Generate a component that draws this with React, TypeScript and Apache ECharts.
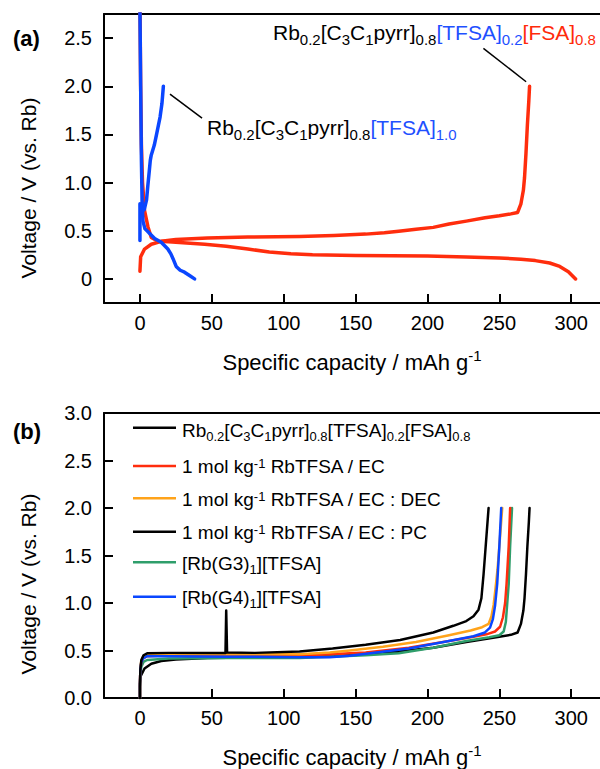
import React, { useEffect, useRef } from 'react';
import * as echarts from 'echarts';

const FONT = '"Liberation Sans", Arial, Helvetica, sans-serif';

// ---------- Panel (a) data: [capacity mAh/g, voltage V] ----------
const ilDischargeA: [number, number][] = [
  [0, 2.9], [0.5, 2.0], [1.0, 1.4], [1.8, 1.0], [3.2, 0.71], [5.6, 0.54], [7.9, 0.43],
  [12.5, 0.39], [20, 0.385], [30, 0.375], [45, 0.36], [60, 0.34], [75, 0.31], [90, 0.28],
  [105, 0.262], [120, 0.25], [150, 0.243], [200, 0.237], [227, 0.228], [250, 0.218],
  [265, 0.205], [275, 0.19], [285, 0.165], [292, 0.13], [298, 0.075], [303, 0.0],
];
const ilChargeA: [number, number][] = [
  [0, 0.08], [0.5, 0.23], [3.2, 0.31], [7.9, 0.36], [14.8, 0.39], [25, 0.41], [47, 0.425],
  [75, 0.435], [111, 0.44], [135, 0.45], [157, 0.465], [170, 0.48], [180, 0.495], [192, 0.515],
  [204, 0.535], [215, 0.57], [227, 0.6], [240, 0.635], [250, 0.655], [258, 0.675], [262.7, 0.69],
  [265, 0.78], [266.7, 0.92], [267.5, 1.05], [268.5, 1.3], [269.5, 1.6], [270.5, 1.85], [271, 2.0],
];
const tfsaDischargeA: [number, number][] = [
  [0, 2.8], [0.5, 2.0], [1.0, 1.25], [1.5, 0.8], [2.1, 0.6], [3.5, 0.52], [5.6, 0.49],
  [10.2, 0.42], [14.8, 0.38], [19.4, 0.31], [21.5, 0.26], [23, 0.21], [25.2, 0.13],
  [28, 0.09], [31, 0.07], [35, 0.03], [38, 0.0],
];
const tfsaChargeA: [number, number][] = [
  [0, 0.4], [0, 0.78], [1.5, 0.7], [3, 0.72], [4.6, 0.82], [5.5, 0.97], [6.5, 1.12],
  [7.2, 1.23], [7.8, 1.28], [10, 1.39], [11.7, 1.51], [14, 1.68], [15.3, 1.82], [16.3, 2.0],
];

// ---------- Panel (b) data ----------
const ilChargeB: [number, number][] = [
  [0, 0.0], [0, 0.12], [0.5, 0.23], [3.2, 0.31], [7.9, 0.36], [14.8, 0.39], [25, 0.405], [47, 0.42],
  [75, 0.425], [111, 0.43], [135, 0.44], [157, 0.46], [180, 0.49], [204, 0.53], [227, 0.59],
  [250, 0.645], [258, 0.665], [262.7, 0.69], [265, 0.78], [266.7, 0.92], [267.5, 1.05],
  [268.5, 1.3], [269.5, 1.6], [270.5, 1.85], [271, 2.0],
];
const ecB: [number, number][] = [
  [0, 0.0], [0, 0.15], [0.3, 0.3], [1, 0.38], [2.5, 0.42], [5, 0.44], [20, 0.45], [60, 0.45],
  [111, 0.45], [132, 0.46], [157, 0.48], [187, 0.53], [215, 0.6], [232, 0.645], [241, 0.67],
  [247, 0.7], [250.5, 0.75], [252.5, 0.85], [254, 1.0], [255, 1.2], [256.5, 1.6], [257.5, 2.0],
];
const ecDecB: [number, number][] = [
  [0, 0.0], [0, 0.15], [0.3, 0.3], [1, 0.4], [2.5, 0.44], [5, 0.46], [20, 0.465], [60, 0.46],
  [111, 0.46], [132, 0.48], [146, 0.5], [169, 0.54], [192, 0.59], [215, 0.66], [230, 0.71],
  [238, 0.745], [242.5, 0.78], [244.5, 0.86], [246, 0.98], [247.3, 1.15], [248.7, 1.35],
  [250, 1.6], [252, 2.0],
];
const ecPcB: [number, number][] = [
  [0, 0.0], [0, 0.15], [0.3, 0.3], [1, 0.4], [2.5, 0.45], [5, 0.47], [20, 0.475], [59.5, 0.475],
  [60, 0.92], [60.6, 0.48], [80, 0.475], [111, 0.49], [134, 0.52], [157, 0.56], [181, 0.61],
  [204, 0.69], [218, 0.76], [227, 0.81], [232, 0.86], [235.5, 0.93], [237.5, 1.05],
  [239, 1.3], [240.5, 1.6], [242.5, 2.0],
];
const g3B: [number, number][] = [
  [0, 0.0], [0, 0.12], [0.3, 0.25], [1, 0.33], [2.5, 0.38], [5, 0.4], [20, 0.415], [60, 0.42],
  [111, 0.42], [157, 0.45], [180, 0.47], [204, 0.53], [227, 0.6], [243, 0.64], [250, 0.66],
  [253, 0.7], [254.5, 0.8], [255.5, 1.0], [256.5, 1.2], [257.5, 1.6], [258.8, 2.0],
];
const g4B: [number, number][] = [
  [0, 0.0], [0, 0.15], [0.3, 0.3], [1, 0.38], [2.5, 0.42], [5, 0.44], [20, 0.44], [60, 0.435],
  [111, 0.43], [132, 0.43], [146, 0.445], [187, 0.52], [215, 0.6], [232, 0.65], [240, 0.69],
  [243.5, 0.74], [245.5, 0.83], [247, 0.97], [248.5, 1.2], [250, 1.6], [251.3, 2.0],
];

// ---------- ticks ----------
const xTicks = [0, 50, 100, 150, 200, 250, 300];
const yTicksA = [0, 0.5, 1.0, 1.5, 2.0, 2.5];
const yTicksB = [0, 0.5, 1.0, 1.5, 2.0, 2.5, 3.0];

// ---------- labels ----------
const annotationIL = '{k|Rb}{ks|0.2}{k|[C}{ks|3}{k|C}{ks|1}{k|pyrr]}{ks|0.8}{b|[TFSA]}{bs|0.2}{r|[FSA]}{rs|0.8}';
const annotationTFSA = '{k|Rb}{ks|0.2}{k|[C}{ks|3}{k|C}{ks|1}{k|pyrr]}{ks|0.8}{b|[TFSA]}{bs|1.0}';
const annotationLinesA: [number, number][][] = [
  [[238.9, 2.394], [268.6, 2.047]],
  [[20.9, 1.918], [43.2, 1.67]],
];
const legendLabels = [
  '{n|Rb}{s|0.2}{n|[C}{s|3}{n|C}{s|1}{n|pyrr]}{s|0.8}{n|[TFSA]}{s|0.2}{n|[FSA]}{s|0.8}',
  '{n|1 mol kg}{p|-1}{n| }{n|RbTFSA / EC}',
  '{n|1 mol kg}{p|-1}{n| }{n|RbTFSA / EC : DEC}',
  '{n|1 mol kg}{p|-1}{n| }{n|RbTFSA / EC : PC}',
  '{n|[Rb(G3)}{s|1}{n|][TFSA]}',
  '{n|[Rb(G4)}{s|1}{n|][TFSA]}',
];
const legendColors = ['#000000', '#ff2d0d', '#ffa31a', '#000000', '#2f9e6b', '#0a46ff'];
const legendLineY = [427.7, 466, 498.3, 531.7, 562.3, 596.7];

const RED = '#ff2d0d';
const BLUE = '#0a46ff';
const TXT_BLUE = '#1f50ff';
const TXT_RED = '#ff2a0a';

export default function App() {
  const ref = useRef<HTMLDivElement>(null);

  useEffect(() => {
    if (!ref.current) return;
    const chart = echarts.init(ref.current, undefined, { renderer: 'svg' });

    const tok = (size: number, fill: string, pad = 0, color = false) => {
      const s: any = { fontSize: size, fontFamily: FONT, height: size, verticalAlign: 'top', padding: [pad, 0, 0, 0] };
      if (color) s.color = fill; else s.fill = fill;
      return s;
    };

    const xAxisBase = (gridIndex: number, withName: boolean) => ({
      type: 'value',
      gridIndex,
      min: -25,
      max: 320,
      axisLine: { show: true, onZero: false, lineStyle: { color: '#000', width: 2 } },
      axisTick: { show: true, inside: true, length: 9, customValues: xTicks, lineStyle: { color: '#000', width: 2 } },
      axisLabel: { show: true, customValues: xTicks, fontSize: 20, fontFamily: FONT, color: '#000', margin: 10 },
      splitLine: { show: false },
      name: withName ? '{n|Specific capacity / mAh g}{p|-1}' : '',
      nameLocation: 'middle',
      nameGap: 45,
      nameTextStyle: {
        rich: {
          n: tok(22, '#000', 3, true),
          p: tok(15, '#000', 0, true),
        },
      },
    });
    const topBorder = (gridIndex: number) => ({
      type: 'value',
      gridIndex,
      position: 'top',
      min: -25,
      max: 320,
      axisLine: { show: true, onZero: false, lineStyle: { color: '#000', width: 2 } },
      axisTick: { show: false },
      axisLabel: { show: false },
      splitLine: { show: false },
    });
    const yAxisBase = (gridIndex: number, min: number, max: number, ticks: number[], zeroPlain: boolean) => ({
      type: 'value',
      gridIndex,
      min,
      max,
      axisLine: { show: true, onZero: false, lineStyle: { color: '#000', width: 2 } },
      axisTick: { show: true, inside: true, length: 9, customValues: ticks, lineStyle: { color: '#000', width: 2 } },
      axisLabel: {
        show: true,
        customValues: ticks,
        fontSize: 20,
        fontFamily: FONT,
        color: '#000',
        margin: 12,
        formatter: (v: number) => (zeroPlain && v === 0 ? '0' : v.toFixed(1)),
      },
      splitLine: { show: false },
    });

    const lineSeries = (data: [number, number][], color: string, xi: number, yi: number, width: number, extra: any = {}) => ({
      type: 'line',
      data,
      xAxisIndex: xi,
      yAxisIndex: yi,
      showSymbol: false,
      symbol: 'none',
      clip: true,
      lineStyle: { color, width, cap: 'round', join: 'round' },
      ...extra,
    });

    const leader = (pts: [number, number][]) => ({
      silent: true,
      symbol: ['none', 'none'],
      label: { show: false },
      lineStyle: { color: '#000', width: 1.5, type: 'solid' },
      data: [[{ coord: pts[0] }, { coord: pts[1] }]],
    });

    const graphics: any[] = [
      { type: 'text', x: 13, y: 38, style: { text: '(a)', fontSize: 22, fontWeight: 'bold', fontFamily: FONT, fill: '#000', verticalAlign: 'middle' } },
      { type: 'text', x: 13, y: 431, style: { text: '(b)', fontSize: 22, fontWeight: 'bold', fontFamily: FONT, fill: '#000', verticalAlign: 'middle' } },
      { type: 'text', x: 28, y: 188, rotation: Math.PI / 2, style: { text: 'Voltage / V (vs. Rb)', fontSize: 21, fontFamily: FONT, fill: '#000', align: 'center', verticalAlign: 'middle' } },
      { type: 'text', x: 28, y: 584, rotation: Math.PI / 2, style: { text: 'Voltage / V (vs. Rb)', fontSize: 21, fontFamily: FONT, fill: '#000', align: 'center', verticalAlign: 'middle' } },
    ];
    const annRich = {
      k: tok(21, '#000'),
      ks: tok(15, '#000', 10),
      b: tok(21, TXT_BLUE),
      bs: tok(15, TXT_BLUE, 10),
      r: tok(21, TXT_RED),
      rs: tok(15, TXT_RED, 10),
    };
    graphics.push({ type: 'text', x: 273, y: 22.2, style: { text: annotationIL, rich: annRich, fontSize: 21, fontFamily: FONT, align: 'left', verticalAlign: 'top' } });
    graphics.push({ type: 'text', x: 207, y: 117.2, style: { text: annotationTFSA, rich: annRich, fontSize: 21, fontFamily: FONT, align: 'left', verticalAlign: 'top' } });

    const legRich = {
      n: tok(19, '#000'),
      s: tok(13, '#000', 9),
      p: tok(13, '#000', 0),
    };
    legendLabels.forEach((lab, i) => {
      const ly = legendLineY[i];
      graphics.push({ type: 'line', shape: { x1: 133, y1: ly, x2: 176, y2: ly }, style: { stroke: legendColors[i], lineWidth: 2.5 } });
      graphics.push({
        type: 'text',
        x: 182,
        y: i === 0 ? ly - 7.1 : ly - 8.8,
        style: { text: lab, rich: legRich, fontSize: 19, fontFamily: FONT, align: 'left', verticalAlign: 'top' },
      });
    });

    const option: any = {
      animation: false,
      backgroundColor: '#ffffff',
      grid: [
        { left: 104, top: 14, width: 496, height: 289, containLabel: false },
        { left: 104, top: 413, width: 496, height: 287, containLabel: false },
      ],
      xAxis: [xAxisBase(0, true), topBorder(0), xAxisBase(1, true), topBorder(1)],
      yAxis: [yAxisBase(0, -0.25, 2.75, yTicksA, true), yAxisBase(1, 0, 3.0, yTicksB, false)],
      series: [
        lineSeries(ilDischargeA, RED, 0, 0, 3.5),
        lineSeries(ilChargeA, RED, 0, 0, 3.5, { markLine: leader(annotationLinesA[0]) }),
        lineSeries(tfsaDischargeA, BLUE, 0, 0, 3.5),
        lineSeries(tfsaChargeA, BLUE, 0, 0, 3.5, { markLine: leader(annotationLinesA[1]) }),
        lineSeries(ilChargeB, legendColors[0], 2, 1, 2.5),
        lineSeries(g3B, legendColors[4], 2, 1, 2.5),
        lineSeries(ecB, legendColors[1], 2, 1, 2.5),
        lineSeries(ecDecB, legendColors[2], 2, 1, 2.5),
        lineSeries(g4B, legendColors[5], 2, 1, 2.5),
        lineSeries(ecPcB, legendColors[3], 2, 1, 2.5),
      ],
      graphic: graphics,
    };
    chart.setOption(option);
    return () => chart.dispose();
  }, []);

  return <div ref={ref} style={{ position: 'absolute', left: 0, top: 0, width: 600, height: 769, background: '#fff' }} />;
}
